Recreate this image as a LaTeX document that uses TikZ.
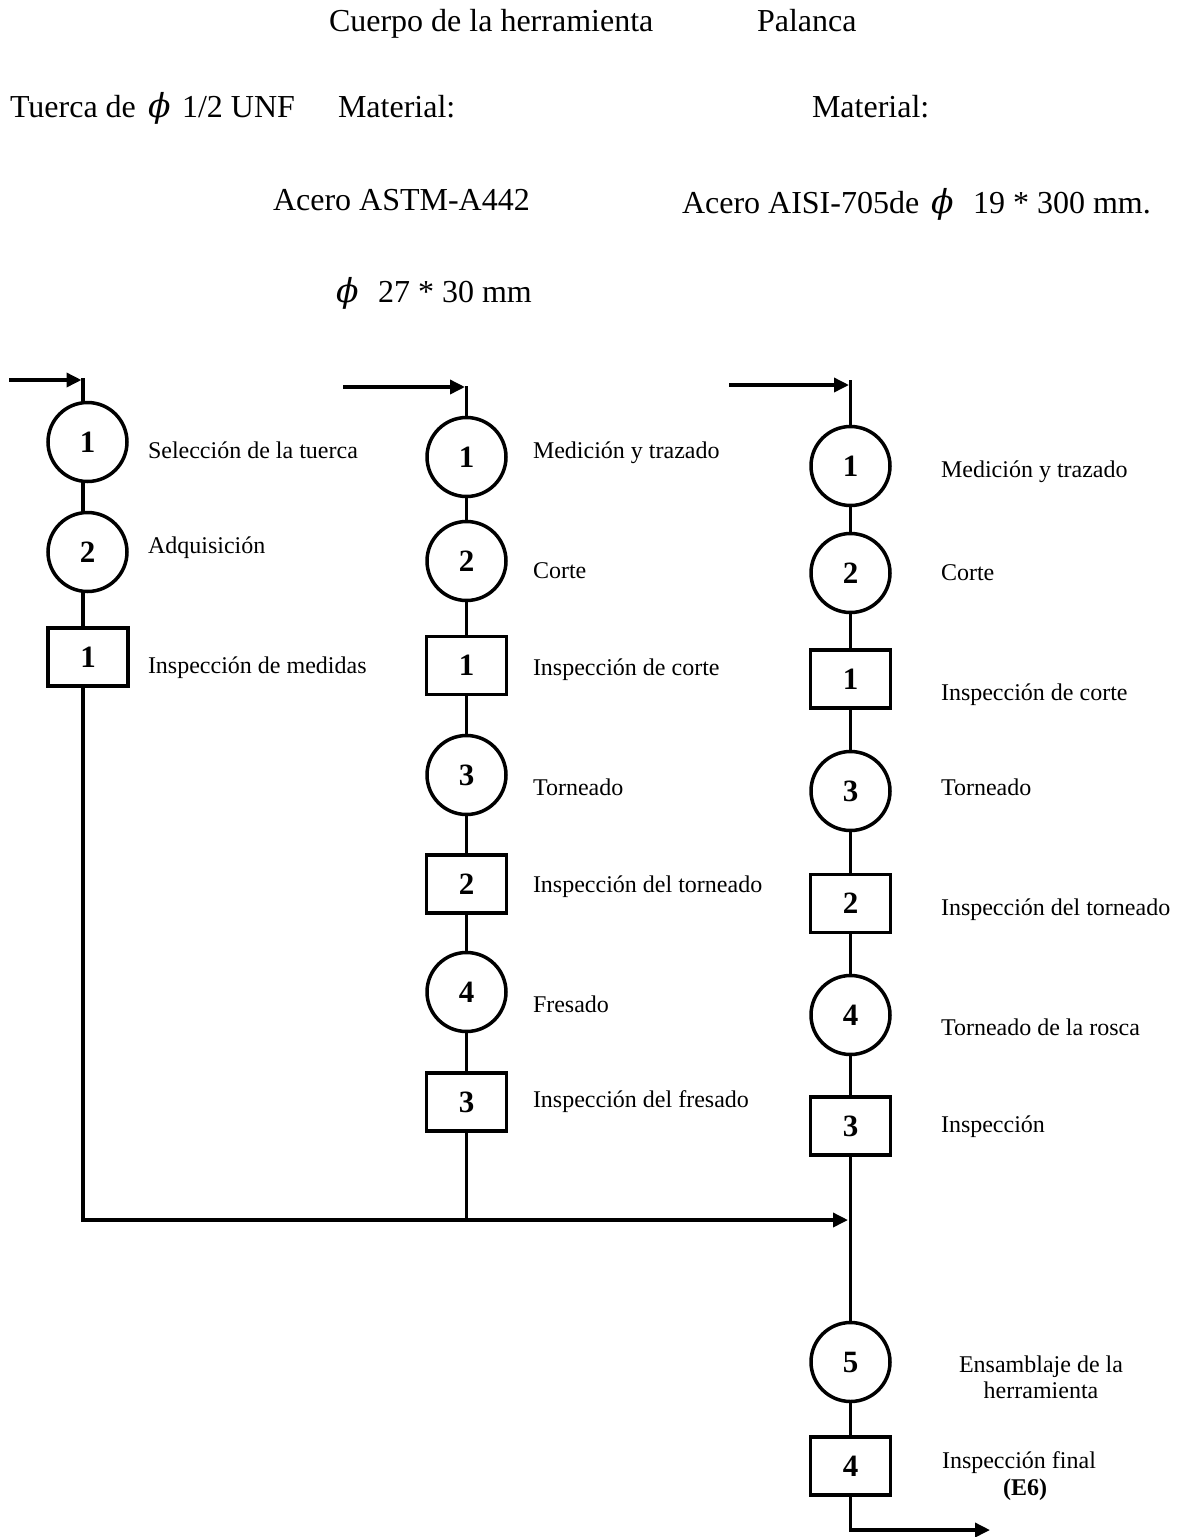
\documentclass[tikz,border=0pt]{standalone}
\usepackage{fontspec}
\setmainfont{Liberation Serif}
\newfontfamily\phifont{DejaVu Serif}
\usetikzlibrary{arrows.meta}
\newcommand\myphi{{\phifont\itshape\fontsize{33}{33}\selectfont ϕ}}
\begin{document}
\begin{tikzpicture}[x=1pt,y=-1pt,
  every node/.style={inner sep=0pt, outer sep=0pt},
  op/.style={circle, draw, line width=3.5pt, minimum size=79pt, font=\fontsize{31}{32}\selectfont\bfseries},
  insp/.style={rectangle, draw, line width=3.5pt, minimum width=80pt, minimum height=58pt, font=\fontsize{31}{32}\selectfont\bfseries},
  lbl/.style={anchor=base west, font=\fontsize{24}{26}\selectfont},
  lblc/.style={anchor=base, font=\fontsize{24}{26}\selectfont},
  hdr/.style={anchor=base west, font=\fontsize{32}{34}\selectfont},
  conn/.style={line width=3.5pt},
  arr/.style={line width=3.5pt, -{Triangle[length=15pt,width=14pt]}},
]
\useasboundingbox (0,0) rectangle (1179,1537);

% ---------- header texts ----------
\node[hdr] (h1) at (329,31) {Cuerpo de la herramienta};
\node[hdr] (h2) at (757,31) {Palanca};
\node[hdr] (h3) at (10,117) {Tuerca de};
\node[hdr] (h3p) at (148,117) {\myphi};
\node[hdr] (h3b) at (182,117) {1/2 UNF};
\node[hdr] (h4) at (338,117) {Material:};
\node[hdr] (h5) at (812,117) {Material:};
\node[hdr] (h6) at (273,210) {Acero ASTM-A442};
\node[hdr] (h7) at (682,213) {Acero AISI-705de};
\node[hdr] (h7p) at (931,213) {\myphi};
\node[hdr] (h7b) at (973,213) {19 * 300 mm.};
\node[hdr] (h8p) at (336,302) {\myphi};
\node[hdr] (h8b) at (378,302) {27 * 30 mm};

% ---------- column 1 ----------
\coordinate (L1) at (83,0);
\coordinate (s1) at (9,380);
\coordinate (t1) at (81.5,380);
\coordinate (a0) at (83,378);
\node[op] (a1) at (87.5,442) {1};
\node[op] (a2) at (87.5,552) {2};
\node[insp] (a3) at (88,657) {1};
\node[lbl] (la1) at (148,458) {Selección de la tuerca};
\node[lbl] (la2) at (148,553) {Adquisición};
\node[lbl] (la3) at (148,673) {Inspección de medidas};
\draw[arr] (s1) -- (t1);
\draw[conn] (a0) -- (a1.north -| L1);
\draw[conn] (a1.south -| L1) -- (a2.north -| L1);
\draw[conn] (a2.south -| L1) -- (a3.north -| L1);

% ---------- column 2 ----------
\coordinate (s2) at (343,387);
\coordinate (t2) at (465,387);
\coordinate (b0) at (466.5,386);
\node[op] (b1) at (466.5,457) {1};
\node[op] (b2) at (466.5,561) {2};
\node[insp] (b3) at (466.5,665.5) {1};
\node[op] (b4) at (466.5,775) {3};
\node[insp] (b5) at (466.5,884) {2};
\node[op] (b6) at (466.5,992) {4};
\node[insp] (b7) at (466.5,1102) {3};
\node[lbl] (lb1) at (533,458) {Medición y trazado};
\node[lbl] (lb2) at (533,578) {Corte};
\node[lbl] (lb3) at (533,675) {Inspección de corte};
\node[lbl] (lb4) at (533,795) {Torneado};
\node[lbl] (lb5) at (533,892) {Inspección del torneado};
\node[lbl] (lb6) at (533,1012) {Fresado};
\node[lbl] (lb7) at (533,1107) {Inspección del fresado};
\draw[arr] (s2) -- (t2);
\draw[conn] (b0) -- (b1);
\draw[conn] (b1) -- (b2);
\draw[conn] (b2) -- (b3);
\draw[conn] (b3) -- (b4);
\draw[conn] (b4) -- (b5);
\draw[conn] (b5) -- (b6);
\draw[conn] (b6) -- (b7);

% ---------- column 3 ----------
\coordinate (s3) at (729,385);
\coordinate (t3) at (849,385);
\coordinate (c0) at (850.5,380);
\node[op] (c1) at (850.5,466) {1};
\node[op] (c2) at (850.5,573) {2};
\node[insp] (c3) at (850.5,679) {1};
\node[op] (c4) at (850.5,791) {3};
\node[insp] (c5) at (850.5,903.5) {2};
\node[op] (c6) at (850.5,1015) {4};
\node[insp] (c7) at (850.5,1126) {3};
\node[op] (c8) at (850.5,1362) {5};
\node[insp] (c9) at (850.5,1466) {4};
\node[lbl] (lc1) at (941,477) {Medición y trazado};
\node[lbl] (lc2) at (941,580) {Corte};
\node[lbl] (lc3) at (941,700) {Inspección de corte};
\node[lbl] (lc4) at (941,795) {Torneado};
\node[lbl] (lc5) at (941,915) {Inspección del torneado};
\node[lbl] (lc6) at (941,1035) {Torneado de la rosca};
\node[lbl] (lc7) at (941,1132) {Inspección};
\node[lblc] (lc8a) at (1041,1372) {Ensamblaje de la};
\node[lblc] (lc8b) at (1041,1398) {herramienta};
\node[lbl] (lc9a) at (942,1468) {Inspección final};
\node[lblc, font=\fontsize{24}{26}\selectfont\bfseries] (lc9b) at (1025,1495) {(E6)};
\draw[arr] (s3) -- (t3);
\draw[conn] (c0) -- (c1);
\draw[conn] (c1) -- (c2);
\draw[conn] (c2) -- (c3);
\draw[conn] (c3) -- (c4);
\draw[conn] (c4) -- (c5);
\draw[conn] (c5) -- (c6);
\draw[conn] (c6) -- (c7);
\draw[conn] (c7) -- (c8);
\draw[conn] (c8) -- (c9);

% ---------- merging and exit ----------
\coordinate (m1) at (83,1220);
\coordinate (m2) at (466.5,1220);
\coordinate (jn) at (848,1220);
\draw[arr] (a3.south -| L1) -- (m1) -- (jn);
\draw[conn] (b7) -- (m2);
\coordinate (e1) at (850.5,1530);
\coordinate (e2) at (990,1530);
\draw[arr] (c9) -- (e1) -- (e2);
\end{tikzpicture}
\end{document}
